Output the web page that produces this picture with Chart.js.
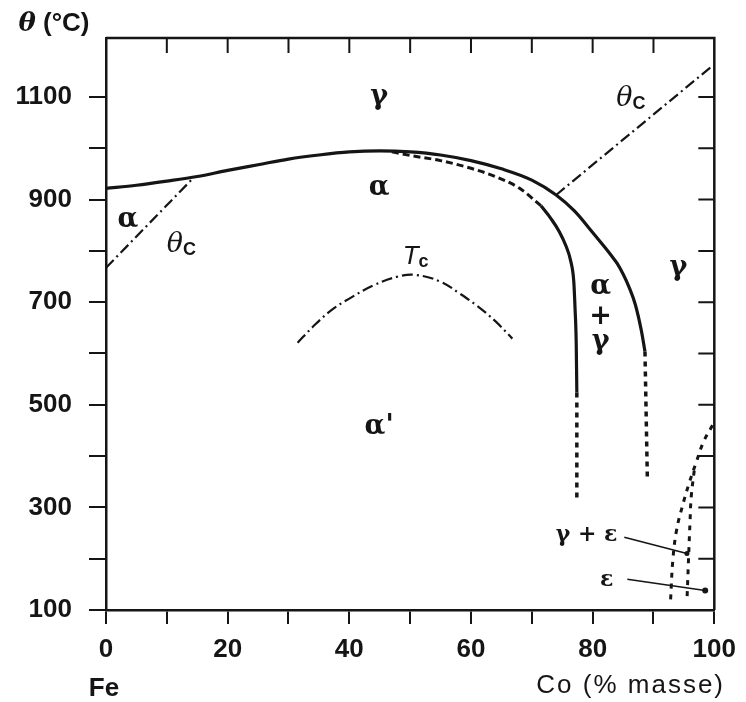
<!DOCTYPE html>
<html>
<head>
<meta charset="utf-8">
<script src="https://cdn.jsdelivr.net/npm/chart.js@4.4.1/dist/chart.umd.min.js"></script>
<style>
  html, body { margin: 0; padding: 0; background: #fff; }
  #wrap { width: 746px; height: 702px; position: relative; }
</style>
</head>
<body>
<div id="wrap"><canvas id="fecoChart"></canvas></div>
<script>
// Diagramme d'équilibre Fe-Co : température (°C) en fonction de la teneur en Co (% masse)

// Axes
const coTicks = [0, 20, 40, 60, 80, 100];
const tempTicks = [100, 300, 500, 700, 900, 1100];

// Limite gamma / alpha (trait plein)
const gammaAlphaCo = [0, 5, 10, 15, 20, 25, 30, 35, 40, 45, 50, 55, 60, 65, 70, 74, 77, 80, 82, 83, 84, 85, 86, 87, 88, 88.6];
const gammaAlphaT  = [922, 928, 936, 945, 957, 968, 979, 987, 993, 995, 993, 987, 976, 960, 938, 909, 878, 836, 807, 792, 776, 755, 729, 696, 645, 604];

// Limite alpha / alpha+gamma (tirets puis trait plein)
const alphaDashCo = [47, 50, 55, 60, 64, 68, 71.5];
const alphaDashT  = [993, 986, 976, 961, 945, 922, 888];
const alphaSolidCo = [71.5, 73.2, 74.5, 75.6, 76.4, 76.9, 77.1, 77.3, 77.4];
const alphaSolidT  = [888, 862, 838, 810, 780, 740, 690, 620, 524];

// Prolongements en pointillés vers les basses températures
const alphaDotCo = [77.4, 77.4];
const alphaDotT  = [524, 318];
const gammaDotCo = [88.6, 89.0];
const gammaDotT  = [604, 352];

// Températures de Curie (tiret-point)
const curieFeCo = [0, 14.5];
const curieFeT  = [767, 944];
const curieCoCo = [74, 99.6];
const curieCoT  = [909, 1160];
const orderCo = [31.5, 34, 37, 40, 44, 48, 51, 55, 58, 61, 64, 66.8];
const orderT  = [621, 652, 684, 707, 733, 750, 753, 740, 718, 693, 663, 629];

// Côté cobalt : gamma / gamma+epsilon / epsilon
const gammaEpsCo = [99.7, 98.2, 97, 95.8, 94.7, 93.8, 93.2, 92.8];
const gammaEpsT  = [460, 427, 387, 345, 300, 256, 200, 117];
const epsCo = [96.7, 96.2, 96.0, 95.8, 95.5];
const epsT  = [372, 320, 270, 211, 117];

// Traits de renvoi des étiquettes
const leaderGECo = [85.2, 95.5];
const leaderGET  = [242, 210];
const leaderECo = [85.7, 98.5];
const leaderET  = [160, 138];

const toPoints = (xs, ys) => xs.map((x, i) => ({ x: x, y: ys[i] }));

const INK = '#151515';
const GREEK = 'bold 27px "DejaVu Serif"';
const THETA = 'italic 27px "DejaVu Serif"';
const SANS = '26px "Liberation Sans"';
const SUB = 'bold 18px "Liberation Sans"';

function curve(xs, ys, style) {
  return Object.assign({
    data: toPoints(xs, ys),
    showLine: true,
    borderColor: INK,
    borderWidth: 3.2,
    pointRadius: 0,
    tension: 0.4,
    fill: false
  }, style);
}

const DASH_DOT = [11, 4, 2, 4];

const datasets = [
  curve(gammaAlphaCo, gammaAlphaT, { cubicInterpolationMode: 'monotone' }),
  curve(alphaDashCo, alphaDashT, { borderDash: [7, 4], borderWidth: 3, cubicInterpolationMode: 'monotone' }),
  curve(alphaSolidCo, alphaSolidT, { cubicInterpolationMode: 'monotone' }),
  curve(alphaDotCo, alphaDotT, { borderDash: [5, 5], borderWidth: 3.5, tension: 0 }),
  curve(gammaDotCo, gammaDotT, { borderDash: [5, 5], borderWidth: 3.5, tension: 0 }),
  curve(curieFeCo, curieFeT, { borderDash: DASH_DOT, borderWidth: 2.2, tension: 0 }),
  curve(curieCoCo, curieCoT, { borderDash: DASH_DOT, borderWidth: 2.2, tension: 0 }),
  curve(orderCo, orderT, { borderDash: DASH_DOT, borderWidth: 2.2 }),
  curve(gammaEpsCo, gammaEpsT, { borderDash: [5, 6], borderWidth: 3 }),
  curve(epsCo, epsT, { borderDash: [5, 6], borderWidth: 3 }),
  curve(leaderGECo, leaderGET, { borderWidth: 1.6, tension: 0, pointRadius: [0, 2.5], pointBackgroundColor: INK, pointBorderWidth: 0 }),
  curve(leaderECo, leaderET, { borderWidth: 1.6, tension: 0, pointRadius: [0, 3], pointBackgroundColor: INK, pointBorderWidth: 0 })
];

// Noms des domaines, placés en coordonnées (Co %, °C)
const phaseLabels = [
  { co: 44.9, t: 1100, parts: [{ s: 'γ', f: GREEK }] },
  { co: 44.9, t: 923, parts: [{ s: 'α', f: GREEK }] },
  { co: 44.9, t: 457, parts: [{ s: "α'", f: GREEK }] },
  { co: 3.6, t: 860, parts: [{ s: 'α', f: GREEK }] },
  { co: 12.4, t: 811, parts: [{ s: 'θ', f: THETA }, { s: 'C', f: SUB, dy: 5 }] },
  { co: 86.3, t: 1096, parts: [{ s: 'θ', f: THETA }, { s: 'C', f: SUB, dy: 5 }] },
  { co: 50.9, t: 788, parts: [{ s: 'T', f: 'italic 26px "Liberation Sans"' }, { s: 'c', f: SUB, dy: 5 }] },
  { co: 81.3, t: 729, parts: [{ s: 'α', f: GREEK }] },
  { co: 81.3, t: 671, parts: [{ s: '+', f: GREEK }] },
  { co: 81.3, t: 622, parts: [{ s: 'γ', f: GREEK }] },
  { co: 94.1, t: 767, parts: [{ s: 'γ', f: GREEK }] },
  { co: 79.0, t: 246, parts: [{ s: 'γ + ε', f: 'bold 22px "DejaVu Serif"' }] },
  { co: 82.3, t: 157, parts: [{ s: 'ε', f: 'bold 22px "DejaVu Serif"' }] }
];

function drawParts(ctx, parts, cx, cy) {
  let total = 0;
  parts.forEach(p => { ctx.font = p.f; p.w = ctx.measureText(p.s).width; total += p.w; });
  let x = cx - total / 2;
  parts.forEach(p => {
    ctx.font = p.f;
    ctx.fillText(p.s, x, cy + (p.dy || 0));
    x += p.w;
  });
}

// Cadre complet, graduations intérieures en haut et à droite, textes
const diagramDecor = {
  id: 'diagramDecor',
  afterDraw(chart) {
    const { ctx, chartArea: a, scales } = chart;
    const xs = scales.x, ys = scales.y;
    ctx.save();
    ctx.strokeStyle = INK;
    ctx.lineWidth = 2.5;
    ctx.beginPath();
    ctx.moveTo(a.left, a.top);
    ctx.lineTo(a.right, a.top);
    ctx.lineTo(a.right, a.bottom);
    ctx.stroke();

    ctx.lineWidth = 2;
    ctx.beginPath();
    xs.ticks.forEach(t => {
      if (t.value > 0 && t.value < 100) {
        const px = xs.getPixelForValue(t.value);
        ctx.moveTo(px, a.top);
        ctx.lineTo(px, a.top + 15);
      }
    });
    ys.ticks.forEach(t => {
      if (t.value > 100) {
        const py = ys.getPixelForValue(t.value);
        ctx.moveTo(a.right, py);
        ctx.lineTo(a.right - 16, py);
      }
    });
    ctx.stroke();

    ctx.fillStyle = INK;
    ctx.textBaseline = 'middle';
    ctx.textAlign = 'left';
    phaseLabels.forEach(l => {
      drawParts(ctx, l.parts, xs.getPixelForValue(l.co), ys.getPixelForValue(l.t));
    });

    // Titres des axes
    drawParts(ctx, [{ s: 'θ', f: 'bold italic 26px "DejaVu Serif"' }, { s: ' (°C)', f: 'bold ' + SANS }], 54, 24);
    drawParts(ctx, [{ s: 'Fe', f: 'bold ' + SANS }], 104, 689);
    ctx.font = SANS;
    ctx.textAlign = 'right';
    ctx.letterSpacing = '2px';
    ctx.fillText('Co (% masse)', 725, 686);
    ctx.restore();
  }
};

new Chart(document.getElementById('fecoChart'), {
  type: 'scatter',
  data: { datasets: datasets },
  options: {
    responsive: true,
    maintainAspectRatio: false,
    devicePixelRatio: 1,
    animation: false,
    layout: { padding: { top: 38, right: 25, left: 0, bottom: 0 } },
    plugins: { legend: { display: false }, tooltip: { enabled: false } },
    scales: {
      x: {
        type: 'linear',
        min: 0,
        max: 100,
        afterFit: s => { s.height = 92; },
        ticks: {
          stepSize: 10,
          autoSkip: false,
          maxRotation: 0,
          padding: 10,
          color: INK,
          font: { family: 'Liberation Sans', size: 26, weight: 'bold' },
          callback: v => coTicks.includes(v) ? String(v) : ''
        },
        grid: { drawOnChartArea: false, drawTicks: true, tickLength: 14, color: INK, lineWidth: 2 },
        border: { display: true, color: INK, width: 2.5 }
      },
      y: {
        type: 'linear',
        min: 100,
        max: 1215,
        afterFit: s => { s.width = 106; },
        afterBuildTicks: s => { s.ticks = s.ticks.filter(t => t.value <= 1100); },
        ticks: {
          stepSize: 100,
          includeBounds: false,
          autoSkip: false,
          padding: 17,
          color: INK,
          font: { family: 'Liberation Sans', size: 26, weight: 'bold' },
          callback: v => tempTicks.includes(v) ? String(v) : ''
        },
        grid: { drawOnChartArea: false, drawTicks: true, tickLength: 17, color: INK, lineWidth: 2 },
        border: { display: true, color: INK, width: 2.5 }
      }
    }
  },
  plugins: [diagramDecor]
});
</script>
</body>
</html>
